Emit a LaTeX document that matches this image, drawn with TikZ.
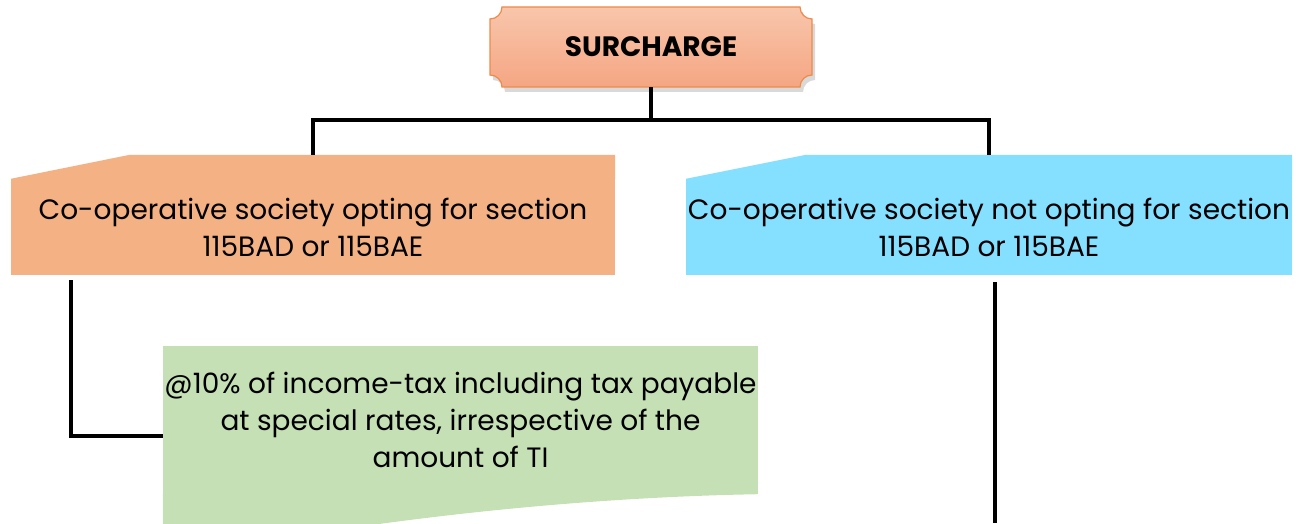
\documentclass[tikz,border=0pt]{standalone}
\usepackage{fontspec}
\setmainfont{Poppins}
\usepackage{tikz}
\usetikzlibrary{shadows}

\definecolor{headtop}{HTML}{F8C6AC}
\definecolor{headbot}{HTML}{F5A682}
\definecolor{headedge}{HTML}{EE8A4A}
\definecolor{optfill}{HTML}{F4B183}
\definecolor{notoptfill}{HTML}{85DFFF}
\definecolor{ratefill}{HTML}{C5E0B4}

\begin{document}
\begin{tikzpicture}[x=1pt,y=1pt,
    txt/.style={font=\fontsize{28}{37}\selectfont, align=center, inner sep=0pt},
    wire/.style={line width=3.5pt}]
            \useasboundingbox (0,0) rectangle (1301,523);
            \clip (0,0) rectangle (1301,523);

            % heading with notched corners
            \draw[draw=headedge, line width=1.2pt, top color=headtop, bottom color=headbot,
                  drop shadow={shadow xshift=3pt, shadow yshift=-5pt, opacity=0.3}]
                (490,504) arc[start angle=-90, end angle=0, radius=12]
                -- (800,516) arc[start angle=180, end angle=270, radius=12]
                -- (812,448) arc[start angle=90, end angle=180, radius=12]
                -- (502,436) arc[start angle=0, end angle=90, radius=12] -- cycle;
            \node[minimum width=322pt, minimum height=80pt, inner sep=0pt,
                  font=\fontsize{28}{32}\selectfont\bfseries] (surcharge) at (651,476) {SURCHARGE};

            % the two branches
            \node[txt, fill=optfill, minimum width=604pt, minimum height=96pt] (opt) at (313,296)
                {Co-operative society opting for section\\115BAD or 115BAE};
            \fill[optfill] (opt.north west) -- ++(119,24) -- ([yshift=24pt]opt.north east) -- (opt.north east) -- cycle;

            \node[txt, fill=notoptfill, minimum width=606pt, minimum height=96pt] (notopt) at (989,296)
                {Co-operative society not opting for section\\115BAD or 115BAE};
            \fill[notoptfill] (notopt.north west) -- ++(120,24) -- ([yshift=24pt]notopt.north east) -- (notopt.north east) -- cycle;

            % rate box, wavy bottom
            \node[txt, fill=ratefill, minimum width=595pt, minimum height=148pt] (rate) at (460.5,103)
                {@10\% of income-tax including tax payable\\at special rates, irrespective of the\\amount of TI};
            \fill[ratefill] (rate.south west) -- (rate.south east)
                .. controls (600,26) and (450,10) .. (330,-8) -- ([yshift=-8pt]rate.south west |- 0,0) -- cycle;

            % connectors
            \coordinate (split) at (651,403);
            \coordinate (loose) at (995,0);
            \draw[wire] (surcharge.south) -- (split);
            \draw[wire] ([yshift=24pt]opt.north) |- (split) -| ([yshift=24pt]notopt.north);
            \draw[wire] ([xshift=60pt,yshift=-5pt]opt.south west) |- ([yshift=-16pt]rate.west);
            \draw[line width=4pt] ([xshift=6pt,yshift=-7pt]notopt.south) -- (loose);
\end{tikzpicture}
\end{document}
